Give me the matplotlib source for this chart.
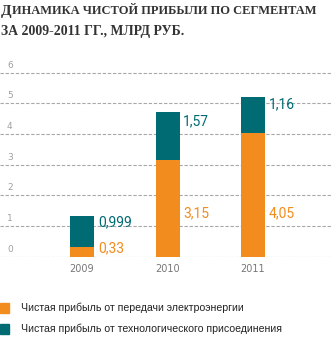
import matplotlib
matplotlib.use("Agg")
import matplotlib.pyplot as plt
from matplotlib.patches import Rectangle

years = ["2009", "2010", "2011"]
transmission = [0.33, 3.15, 4.05]
connection = [0.999, 1.57, 1.16]
transmission_labels = ["0,33", "3,15", "4,05"]
connection_labels = ["0,999", "1,57", "1,16"]
yticks = [0, 1, 2, 3, 4, 5, 6]
legend_labels = ["Чистая прибыль от передачи электроэнергии",
                 "Чистая прибыль от технологического присоединения"]
title_first = "Д"
title_rest = "ИНАМИКА ЧИСТОЙ ПРИБЫЛИ ПО СЕГМЕНТАМ"
title_line2 = "ЗА 2009-2011 ГГ., МЛРД РУБ."

ORANGE = "#F28C1F"
TEAL = "#006B73"
GRID = "#A8A8A8"

W, H = 331, 346
fig = plt.figure(figsize=(W / 100, H / 100), dpi=100)
renderer = fig.canvas.get_renderer()

# axes geometry
y0_px, y6_px = 256.7, 72.7
bottom = (H - y0_px) / H
unit = (y0_px - y6_px) / 6 / H
ytop = 6.3
ax = fig.add_axes([0, bottom, 1, unit * ytop])
ax.set_ylim(0, ytop)
step = 85.5
c0 = 82
ax.set_xlim(-c0 / step, (W - c0) / step)
ax.axis("off")

for t in yticks:
    ax.axhline(t, color=GRID, lw=0.8, ls=(0, (3, 1.6)), zorder=1)
    ax.text(7 / step - c0 / step, t + 0.1, str(t), ha="left", va="bottom",
            fontsize=6.5, color="#a0a0a0", family="DejaVu Sans")

x = list(range(len(years)))
bw = 24 / step
ax.bar(x, transmission, width=bw, color=ORANGE, zorder=2)
ax.bar(x, connection, width=bw, bottom=transmission, color=TEAL, zorder=2)

for i in x:
    seg_lo = transmission[i]
    seg_hi = transmission[i] + connection[i]
    ty = min(transmission[i] / 2 + 0.12, 1.4)
    ax.text(i + bw / 2 + 0.045, ty, transmission_labels[i], ha="left", va="center",
            fontsize=10, color=ORANGE, family="Roboto")
    cy = seg_lo + 0.8 * (seg_hi - seg_lo)
    ax.text(i + bw / 2 + 0.045, cy, connection_labels[i], ha="left", va="center",
            fontsize=10, color=TEAL, family="Roboto")
    ax.text(i, -0.25, years[i], ha="center", va="top", fontsize=7,
            color="#777777", family="DejaVu Sans")

# title (small-caps style)
tkw = dict(fontweight="bold", color="#333333", family="Liberation Serif")
x0 = 1
base1 = 14.5
t1 = fig.text(x0 / W, 1 - base1 / H, title_first, ha="left", va="baseline",
              fontsize=11, **tkw)
w1 = t1.get_window_extent(renderer).width
t2 = fig.text((x0 + w1 + 0.5) / W, 1 - base1 / H, title_rest, ha="left",
              va="baseline", fontsize=9, **tkw)
w2 = t2.get_window_extent(renderer).width
target = 318 - (x0 + w1 + 0.5)
fs1 = 9 * target / w2
t2.set_fontsize(fs1)
fig.text(x0 / W, 1 - 34.5 / H, title_line2, ha="left", va="baseline",
         fontsize=fs1 * 1.1, **tkw)

# legend
for k, (col, lab) in enumerate(zip([ORANGE, TEAL], legend_labels)):
    yc = 308 + k * 21
    fig.patches.append(Rectangle((0, 1 - (yc + 5) / H), 9 / W, 10 / H,
                                 transform=fig.transFigure, color=col))
    fig.text(21 / W, 1 - yc / H, lab, ha="left", va="center", fontsize=7.6,
             color="#222222", family="Liberation Sans")

fig.savefig("out.png", dpi=100)
